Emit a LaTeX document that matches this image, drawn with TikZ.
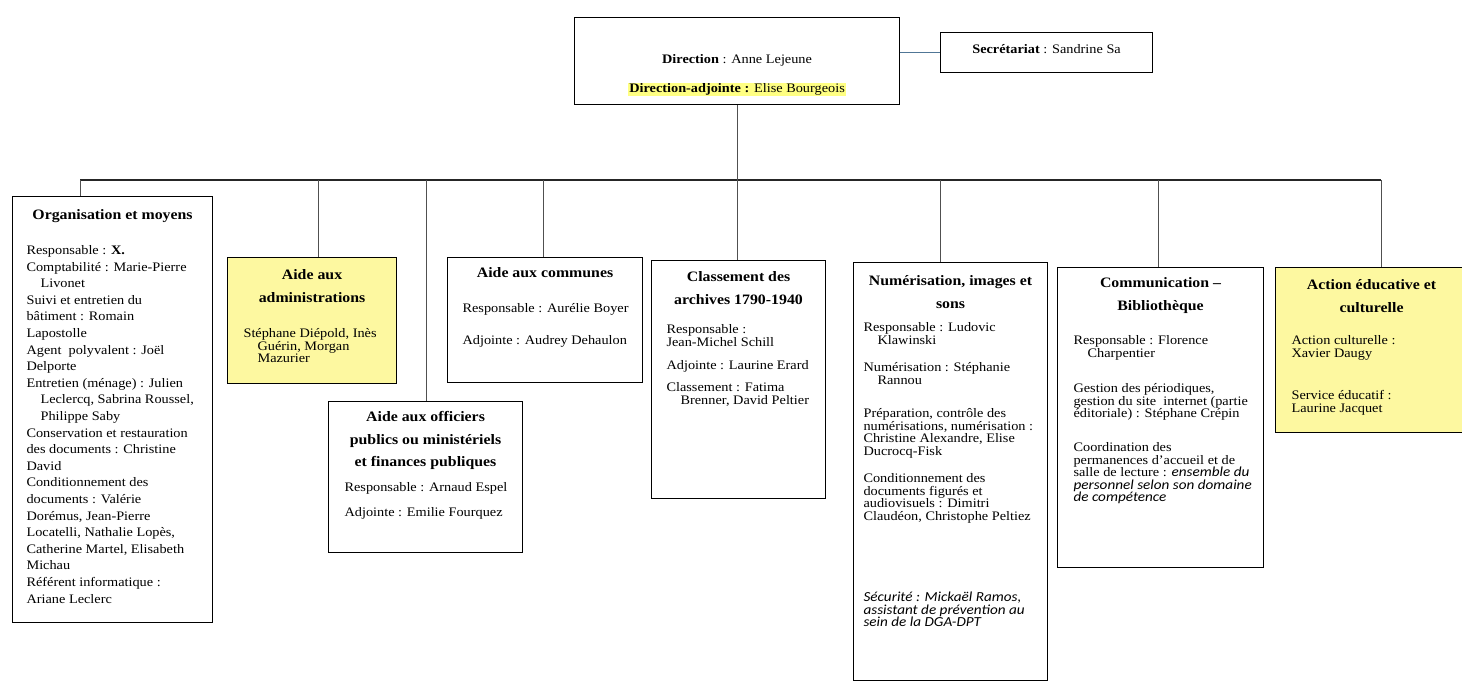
\documentclass[tikz,border=0pt]{standalone}
\usepackage{fontspec}
\setmainfont{Liberation Serif}[FakeStretch=1.1]
\newfontfamily\calibri{Carlito}[FakeStretch=1.1]
\usetikzlibrary{positioning}

\definecolor{unityellow}{RGB}{253,248,160}
\definecolor{markyellow}{RGB}{255,255,130}
\definecolor{linkgrey}{RGB}{80,80,80}
\definecolor{linkblue}{RGB}{80,118,150}

\newcommand{\headfont}{\fontsize{14.4}{22.5}\selectfont\bfseries\lineskiplimit=-30pt\relax}
\newcommand{\bodyfont}[1]{\fontsize{13}{#1}\selectfont\lineskiplimit=-30pt\relax}
\newcommand{\calit}[1]{{\calibri\itshape\fontsize{13.8}{12.5}\selectfont #1}}
\newcommand{\unitpanel}[3]{\parbox[t][#2][t]{#1}{#3}}
\newcommand{\unithead}[2]{{\headfont\centering\rule{0pt}{#1}#2\par}}
\newcommand{\unitbody}[3]{{\bodyfont{#2}\raggedright\leftskip=#1\relax #3\par}}
\newcommand{\ind}{\hspace*{14pt}}

\begin{document}
\begin{tikzpicture}[x=1pt, y=-1pt]
% STYLES
\tikzset{
    unit/.style={draw=black, line width=1.1pt, anchor=north west, inner sep=0pt, fill=white},
    unitmark/.style={unit, fill=unityellow},
    drop/.style={draw=linkgrey, line width=0.8pt},
    busline/.style={draw=black!85, line width=1.6pt}
}
\useasboundingbox (0,0) rectangle (1462,682);

% Direction
\node[unit] (direction) at (574,17) {\unitpanel{325pt}{87pt}{%
  {\bodyfont{16.6pt}\centering\rule{0pt}{46pt}\textbf{Direction} : Anne Lejeune\par
   \vspace{12.4pt}
   \setlength{\fboxsep}{1pt}\colorbox{markyellow}{\textbf{Direction-adjointe :} Elise Bourgeois}\par}}};
\node[unit] (secretariat) at (940,32) {\unitpanel{212pt}{40pt}{%
  {\bodyfont{16.6pt}\centering\rule{0pt}{21pt}\textbf{Secrétariat} : Sandrine Sa\par}}};

% Units
\node[unit] (orga) at (12,196) {\unitpanel{200pt}{426pt}{%
  \unithead{23pt}{Organisation et moyens}
  \vspace{18.4pt}
  \unitbody{14pt}{16.6pt}{Responsable : \textbf{X.}\\
    Comptabilité : Marie-Pierre\\
    \ind Livonet\\
    Suivi et entretien du\\
    bâtiment : Romain\\
    Lapostolle\\
    Agent\ \ polyvalent : Joël\\
    Delporte\\
    Entretien (ménage) : Julien\\
    \ind Leclercq, Sabrina Roussel,\\
    \ind Philippe Saby\\
    Conservation et restauration\\
    des documents : Christine\\
    David\\
    Conditionnement des\\
    documents : Valérie\\
    Dorémus, Jean-Pierre\\
    Locatelli, Nathalie Lopès,\\
    Catherine Martel, Elisabeth\\
    Michau\\
    Référent informatique :\\
    Ariane Leclerc}}};

\node[unitmark] (admin) at (227,257) {\unitpanel{169pt}{126pt}{%
  \unithead{22pt}{Aide aux\\ administrations}
  \vspace{23pt}
  \unitbody{16pt}{12.5pt}{Stéphane Diépold, Inès\\
    \ind Guérin, Morgan\\
    \ind Mazurier}}};

\node[unit] (officiers) at (328,401) {\unitpanel{194pt}{151pt}{%
  \unithead{20pt}{Aide aux officiers\\ publics ou ministériels\\ et finances publiques}
  \vspace{12.5pt}
  \unitbody{16pt}{12.5pt}{Responsable : Arnaud Espel\par\vspace{12.5pt}
    Adjointe : Emilie Fourquez}}};

\node[unit] (communes) at (447,257) {\unitpanel{195pt}{125pt}{%
  \unithead{20pt}{Aide aux communes}
  \vspace{22.5pt}
  \unitbody{15pt}{12.5pt}{Responsable : Aurélie Boyer\par\vspace{19.5pt}
    Adjointe : Audrey Dehaulon}}};

\node[unit] (classement) at (651,260) {\unitpanel{174pt}{238pt}{%
  \unithead{21pt}{Classement des\\ archives 1790-1940}
  \vspace{17pt}
  \unitbody{15pt}{12.5pt}{Responsable :\\ Jean-Michel Schill\par\vspace{11pt}
    Adjointe : Laurine Erard\par\vspace{9.5pt}
    Classement : Fatima\\
    \ind Brenner, David Peltier}}};

\node[unit] (numerisation) at (853,262) {\unitpanel{194pt}{418pt}{%
  \unithead{23pt}{Numérisation, images et\\ sons}
  \vspace{11pt}
  \unitbody{10pt}{12.5pt}{Responsable : Ludovic\\
    \ind Klawinski\par\vspace{15pt}
    Numérisation : Stéphanie\\
    \ind Rannou\par\vspace{21pt}
    Préparation, contrôle des\\
    numérisations, numérisation :\\
    Christine Alexandre, Elise\\
    Ducrocq-Fisk\par\vspace{15pt}
    Conditionnement des\\
    documents figurés et\\
    audiovisuels : Dimitri\\
    Claudéon, Christophe Peltiez\par\vspace{69pt}
    \calit{Sécurité : Mickaël Ramos,\\
    assistant de prévention au\\
    sein de la DGA-DPT}}}};

\node[unit] (communication) at (1057,267) {\unitpanel{206pt}{300pt}{%
  \unithead{20pt}{Communication –\\ Bibliothèque}
  \vspace{22pt}
  \unitbody{16pt}{12.5pt}{Responsable : Florence\\
    \ind Charpentier\par\vspace{23pt}
    Gestion des périodiques,\\
    gestion du site\ \ internet (partie\\
    éditoriale) : Stéphane Crépin\par\vspace{21.5pt}
    Coordination des\\
    permanences d'accueil et de\\
    salle de lecture : \calit{ensemble du}\\
    \calit{personnel selon son domaine}\\
    \calit{de compétence}}}};

\node[unitmark] (action) at (1275,267) {\unitpanel{192pt}{165pt}{%
  \unithead{22pt}{Action éducative et\\ culturelle}
  \vspace{20pt}
  \unitbody{16pt}{12.5pt}{Action culturelle :\\
    Xavier Daugy\par\vspace{30pt}
    Service éducatif :\\
    Laurine Jacquet}}};

% Links
\draw[linkblue, line width=1pt] (direction.east |- secretariat.west) -- (secretariat.west);
\coordinate (busL) at (80,180);
\coordinate (busR) at (1381,180);
\draw[busline] (busL) -- (busR);
\draw[drop] (direction.south) -- (direction.south |- busL);
\foreach \tapx/\unitname in {80/orga, 318/admin, 426/officiers, 543/communes,
    737/classement, 940/numerisation, 1158/communication, 1381/action}{
  \coordinate (tap-\unitname) at (\tapx,180);
  \draw[drop] (tap-\unitname) -- (tap-\unitname |- \unitname.north);
}
\end{tikzpicture}
\end{document}
